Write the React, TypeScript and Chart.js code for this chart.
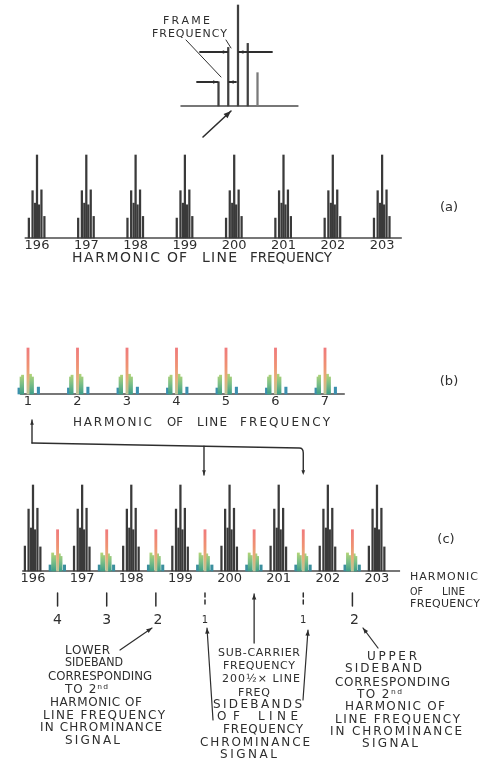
import React, { useEffect, useRef } from "react";
import { Chart, registerables } from "chart.js";

Chart.register(...registerables);

const W = 494;
const H = 758;
const INK = "#2e2e2e";

// ---------- DATA ----------
// Inset: one harmonic resolved into frame-frequency components (offset in frame-frequency steps)
const insetOffsets = [-2, -1, 0, 1, 2];
const insetAmps = [24, 58, 100, 62, 33];

// (a) luminance spectrum: harmonics of line frequency
const harmonicsA = [196, 197, 198, 199, 200, 201, 202, 203];
const groupOffsets = [-0.165, -0.09, -0.04, 0, 0.04, 0.09, 0.15]; // harmonic units
const groupAmpsA = [24, 57, 42, 100, 40, 58, 26];

// (b) chrominance spectrum
const chromaHarmonics = [1, 2, 3, 4, 5, 6, 7];
const chromaOffsets = [-0.18, -0.14, -0.11, 0, 0.05, 0.09, 0.21];
const chromaAmps = [13, 37, 41, 100, 43, 37, 15];
const componentKinds = ["short", "side", "side", "main", "side", "side", "short"];

// (c) combined spectrum
const harmonicsC = [196, 197, 198, 199, 200, 201, 202, 203];
const groupAmpsC = [29, 72, 50, 100, 48, 73, 28];
const subCarrierHarmonics = [196.5, 197.5, 198.5, 199.5, 200.5, 201.5, 202.5];
const subOffsets = [-0.15, -0.1, -0.06, 0, 0.035, 0.07, 0.14];
const subAmps = [7, 21, 18, 48, 20, 17, 7];

// sideband markers below (c)
const sidebandMarks = [196.5, 197.5, 198.5, 199.5, 201.5, 202.5];
const sidebandOrders = ["4", "3", "2", "1", "1", "2"];
const subCarrierMark = 200.5;

// baselines extents (data units)
const insetRange = [-5.9, 6.2];
const rangeA = [195.75, 203.4];
const rangeB = [0.84, 7.4];
const rangeC = [195.78, 203.47];

// ---------- LAYOUT ----------
type Panel = { x0: number; px0: number; kx: number; base: number; k100: number };
const PANELS: Record<string, Panel> = {
  i: { x0: 0, px0: 238, kx: 9.75, base: 106, k100: 101 },
  a: { x0: 196, px0: 37, kx: 49.3, base: 238, k100: 83 },
  b: { x0: 1, px0: 28, kx: 49.5, base: 394, k100: 46 },
  c: { x0: 196, px0: 33, kx: 49.14, base: 571, k100: 86 },
};

function xScale(p: Panel) {
  return {
    type: "linear",
    display: false,
    offset: false,
    bounds: "data",
    min: p.x0 - p.px0 / p.kx,
    max: p.x0 + (W - p.px0) / p.kx,
  };
}
function yScale(p: Panel) {
  const u = 100 / p.k100;
  return {
    type: "linear",
    display: false,
    bounds: "data",
    min: -(H - p.base) * u,
    max: p.base * u,
  };
}

type TextItem = [string, number, number, number, number];
const TEXTS: TextItem[] = [
  // inset
  ["FRAME", 163, 210, 21, 11],
  ["FREQUENCY", 152, 227, 34, 11],
  // (a) axis title
  ["HARMONIC", 72, 160, 258, 14],
  ["OF", 167, 187, 258, 14],
  ["LINE", 202, 237, 258, 14],
  ["FREQUENCY", 250, 332, 258, 14],
  // (b) axis title
  ["HARMONIC", 73, 152, 423, 12],
  ["OF", 167, 183, 423, 12],
  ["LINE", 197, 227, 423, 12],
  ["FREQUENCY", 240, 330, 423, 12],
  // (c) axis title
  ["HARMONIC", 410, 478, 577, 11],
  ["OF", 410, 423, 592, 11],
  ["LINE", 442, 465, 592, 11],
  ["FREQUENCY", 410, 480, 604, 11],
  // lower sideband note
  ["LOWER", 65, 110, 651, 12],
  ["SIDEBAND", 65, 123, 663, 12],
  ["CORRESPONDING", 48, 152, 677, 12],
  ["TO 2ⁿᵈ", 65, 108, 690, 12],
  ["HARMONIC OF", 50, 142, 703, 12],
  ["LINE FREQUENCY", 43, 165, 716, 12],
  ["IN CHROMINANCE", 40, 162, 728, 12],
  ["SIGNAL", 65, 120, 741, 12],
  // sub-carrier note
  ["SUB-CARRIER", 218, 300, 653, 11],
  ["FREQUENCY", 223, 295, 666, 11],
  ["200½× LINE", 222, 300, 679, 11],
  ["FREQ", 238, 270, 693, 11],
  ["SIDEBANDS", 213, 302, 705, 12],
  ["OF", 217, 240, 717, 12],
  ["LINE", 258, 298, 717, 12],
  ["FREQUENCY", 223, 303, 730, 12],
  ["CHROMINANCE", 200, 310, 743, 12],
  ["SIGNAL", 220, 277, 755, 12],
  // upper sideband note
  ["UPPER", 367, 417, 657, 12],
  ["SIDEBAND", 345, 422, 669, 12],
  ["CORRESPONDING", 335, 450, 683, 12],
  ["TO 2ⁿᵈ", 357, 402, 695, 12],
  ["HARMONIC OF", 345, 445, 707, 12],
  ["LINE FREQUENCY", 335, 460, 720, 12],
  ["IN CHROMINANCE", 330, 462, 732, 12],
  ["SIGNAL", 362, 418, 744, 12],
];

const PANEL_LABELS: [string, number, number][] = [
  ["(a)", 449, 208],
  ["(b)", 449, 382],
  ["(c)", 446, 540],
];

// ---------- helpers ----------
function build(centers: number[], offsets: number[], amps: number[], kind?: string) {
  const out: { x: number; y: number }[] = [];
  centers.forEach((c) => {
    offsets.forEach((o, i) => {
      if (kind && componentKinds[i] !== kind) return;
      out.push({ x: c + o, y: amps[i] });
    });
  });
  return out;
}

function vGrad(chart: any, yId: string, topVal: number, stops: [number, string][], fallback: string) {
  if (!chart.chartArea || !chart.scales[yId]) return fallback;
  const ys = chart.scales[yId];
  const y0 = ys.getPixelForValue(0);
  const y1 = ys.getPixelForValue(topVal);
  const g = chart.ctx.createLinearGradient(0, y0, 0, y1);
  stops.forEach(([o, c]) => g.addColorStop(o, c));
  return g;
}

const MAIN_STOPS: [number, string][] = [
  [0, "#b9c497"],
  [0.3, "#e3b27c"],
  [0.6, "#ef9272"],
  [1, "#f07a7c"],
];
const SIDE_STOPS: [number, string][] = [
  [0, "#3f9f88"],
  [0.5, "#7cbf86"],
  [1, "#b8d676"],
];

function fitText(ctx: CanvasRenderingContext2D, text: string, x0: number, x1: number, y: number, size: number) {
  ctx.font = `${size}px "DejaVu Sans", sans-serif`;
  ctx.textBaseline = "middle";
  ctx.textAlign = "left";
  const chars = Array.from(text);
  const ws = chars.map((c) => ctx.measureText(c).width);
  const sum = ws.reduce((a, b) => a + b, 0);
  const target = x1 - x0;
  let gap = chars.length > 1 ? (target - sum) / (chars.length - 1) : 0;
  let sx = 1;
  if (gap < 0) {
    gap = 0;
    sx = target / sum;
  }
  ctx.save();
  ctx.translate(x0, y);
  ctx.scale(sx, 1);
  let x = 0;
  chars.forEach((c, i) => {
    ctx.fillText(c, x, 0);
    x += ws[i] + gap / sx;
  });
  ctx.restore();
}

function centerText(ctx: CanvasRenderingContext2D, text: string, x: number, y: number, size: number) {
  ctx.font = `${size}px "DejaVu Sans", sans-serif`;
  ctx.textAlign = "center";
  ctx.textBaseline = "middle";
  ctx.fillText(text, x, y);
}

function arrow(ctx: CanvasRenderingContext2D, x1: number, y1: number, x2: number, y2: number, head = 5) {
  ctx.beginPath();
  ctx.moveTo(x1, y1);
  ctx.lineTo(x2, y2);
  ctx.stroke();
  arrowHead(ctx, x1, y1, x2, y2, head);
}
function arrowHead(ctx: CanvasRenderingContext2D, x1: number, y1: number, x2: number, y2: number, head = 5) {
  const a = Math.atan2(y2 - y1, x2 - x1);
  ctx.beginPath();
  ctx.moveTo(x2, y2);
  ctx.lineTo(x2 - head * Math.cos(a - 0.38), y2 - head * Math.sin(a - 0.38));
  ctx.lineTo(x2 - head * Math.cos(a + 0.38), y2 - head * Math.sin(a + 0.38));
  ctx.closePath();
  ctx.fill();
}

const annotations = {
  id: "annotations",
  afterDatasetsDraw(chart: any) {
    const ctx: CanvasRenderingContext2D = chart.ctx;
    const s = chart.scales;
    const xi = (v: number) => s.xi.getPixelForValue(v);
    const xb = (v: number) => s.xb.getPixelForValue(v);
    const xc = (v: number) => s.xc.getPixelForValue(v);
    ctx.save();
    ctx.fillStyle = INK;
    ctx.strokeStyle = INK;
    ctx.lineWidth = 1.3;
    ctx.lineCap = "round";

    // tick labels
    harmonicsA.forEach((h) => centerText(ctx, String(h), s.xa.getPixelForValue(h), 246, 13));
    chromaHarmonics.forEach((h) => centerText(ctx, String(h), xb(h), 402, 13));
    harmonicsC.forEach((h) => centerText(ctx, String(h), xc(h), 579, 13));

    TEXTS.forEach(([t, x0, x1, y, sz]) => fitText(ctx, t, x0, x1, y, sz));
    PANEL_LABELS.forEach(([t, x, y]) => centerText(ctx, t, x, y, 13));

    // inset dimension arrows
    ctx.lineWidth = 1.8;
    arrow(ctx, 200, 52, xi(-1) - 0.8, 52, 5);
    arrow(ctx, 272, 52, xi(0) + 0.8, 52, 5);
    arrow(ctx, 197, 82, xi(-2) - 0.8, 82, 5);
    arrow(ctx, 236, 82, xi(-1) + 0.8, 82, 5);
    ctx.lineWidth = 1;
    ctx.beginPath();
    ctx.moveTo(186, 40);
    ctx.lineTo(221, 77);
    ctx.moveTo(226, 40);
    ctx.lineTo(231, 48);
    ctx.stroke();
    ctx.lineWidth = 1.6;
    arrow(ctx, 203, 137, 231, 111, 8);

    // bracket from (b) to (c)
    ctx.lineWidth = 1.4;
    const bx = xb(1) + 4;
    const c1 = xc(199.5) - 1;
    const c2 = xc(201.5);
    arrow(ctx, bx, 443, bx, 420, 5);
    ctx.beginPath();
    ctx.moveTo(bx, 443);
    ctx.lineTo(c2 - 4, 448);
    ctx.quadraticCurveTo(c2, 448, c2, 453);
    ctx.lineTo(c2, 472);
    ctx.stroke();
    arrowHead(ctx, c2, 460, c2, 475, 5);
    const yb1 = 443 + ((c1 - bx) / (c2 - bx)) * 5;
    arrow(ctx, c1, yb1, c1, 475, 5);

    // sideband markers under (c)
    ctx.lineWidth = 1.5;
    sidebandMarks.forEach((m, i) => {
      const x = xc(m);
      ctx.setLineDash(sidebandOrders[i] === "1" ? [4, 3] : []);
      ctx.beginPath();
      ctx.moveTo(x, 593);
      ctx.lineTo(x, 606);
      ctx.stroke();
      ctx.setLineDash([]);
      centerText(ctx, sidebandOrders[i], x + (sidebandOrders[i] === "2" ? 2 : 0), 620, sidebandOrders[i] === "1" ? 10 : 14);
    });
    ctx.lineWidth = 1.3;
    arrow(ctx, xc(subCarrierMark), 643, xc(subCarrierMark), 594, 6);

    // note arrows
    ctx.lineWidth = 1.2;
    arrow(ctx, 120, 650, 152, 628, 6);
    arrow(ctx, 213, 720, 207, 628, 6);
    arrow(ctx, 303, 700, 308, 630, 6);
    arrow(ctx, 378, 648, 363, 628, 6);

    ctx.restore();
  },
};

function baseline(xId: string, yId: string, range: number[]) {
  return {
    type: "line",
    xAxisID: xId,
    yAxisID: yId,
    data: [
      { x: range[0], y: 0 },
      { x: range[1], y: 0 },
    ],
    borderColor: "#4a4a4a",
    borderWidth: 1.5,
    pointRadius: 0,
    order: 5,
  };
}

function bars(xId: string, yId: string, data: any[], color: any, thickness: number) {
  return {
    type: "bar",
    xAxisID: xId,
    yAxisID: yId,
    data,
    backgroundColor: color,
    barThickness: thickness,
    grouped: false,
    borderWidth: 0,
    order: 1,
  };
}

export default function App() {
  const ref = useRef<HTMLCanvasElement>(null);
  useEffect(() => {
    document.body.style.margin = "0";
    document.body.style.background = "#ffffff";
    const canvas = ref.current!;
    const chart = new Chart(canvas, {
      type: "bar",
      data: {
        datasets: [
          baseline("xi", "yi", insetRange),
          baseline("xa", "ya", rangeA),
          baseline("xb", "yb", rangeB),
          baseline("xc", "yc", rangeC),
          bars(
            "xi",
            "yi",
            insetOffsets.map((o, i) => ({ x: o, y: insetAmps[i] })),
            (c: any) => (c.raw && c.raw.x > 1.5 ? "#7a7a7a" : "#404040"),
            1.6
          ),
          bars("xa", "ya", build(harmonicsA, groupOffsets, groupAmpsA), "#3a3a3a", 1.6),
          bars(
            "xb",
            "yb",
            build(chromaHarmonics, chromaOffsets, chromaAmps, "main"),
            (c: any) => vGrad(c.chart, "yb", 100, MAIN_STOPS, "#ef8a74"),
            2.2
          ),
          bars(
            "xb",
            "yb",
            build(chromaHarmonics, chromaOffsets, chromaAmps, "side"),
            (c: any) => vGrad(c.chart, "yb", 45, SIDE_STOPS, "#8cc67e"),
            2.2
          ),
          bars("xb", "yb", build(chromaHarmonics, chromaOffsets, chromaAmps, "short"), "#3a8fae", 2.4),
          bars("xc", "yc", build(harmonicsC, groupOffsets, groupAmpsC), "#3a3a3a", 1.6),
          bars(
            "xc",
            "yc",
            build(subCarrierHarmonics, subOffsets, subAmps, "main"),
            (c: any) => vGrad(c.chart, "yc", 48, MAIN_STOPS, "#ef8a74"),
            2.2
          ),
          bars(
            "xc",
            "yc",
            build(subCarrierHarmonics, subOffsets, subAmps, "side"),
            (c: any) => vGrad(c.chart, "yc", 22, SIDE_STOPS, "#8cc67e"),
            2.2
          ),
          bars("xc", "yc", build(subCarrierHarmonics, subOffsets, subAmps, "short"), "#3b8f9e", 2.4),
        ] as any,
      },
      options: {
        responsive: false,
        maintainAspectRatio: false,
        devicePixelRatio: 1,
        animation: false,
        layout: { padding: 0 },
        plugins: {
          legend: { display: false },
          tooltip: { enabled: false },
          title: { display: false },
        },
        events: [],
        scales: {
          xi: xScale(PANELS.i),
          yi: yScale(PANELS.i),
          xa: xScale(PANELS.a),
          ya: yScale(PANELS.a),
          xb: xScale(PANELS.b),
          yb: yScale(PANELS.b),
          xc: xScale(PANELS.c),
          yc: yScale(PANELS.c),
        } as any,
      },
      plugins: [annotations],
    });
    return () => chart.destroy();
  }, []);
  return <canvas ref={ref} width={W} height={H} style={{ display: "block", width: W, height: H }} />;
}
